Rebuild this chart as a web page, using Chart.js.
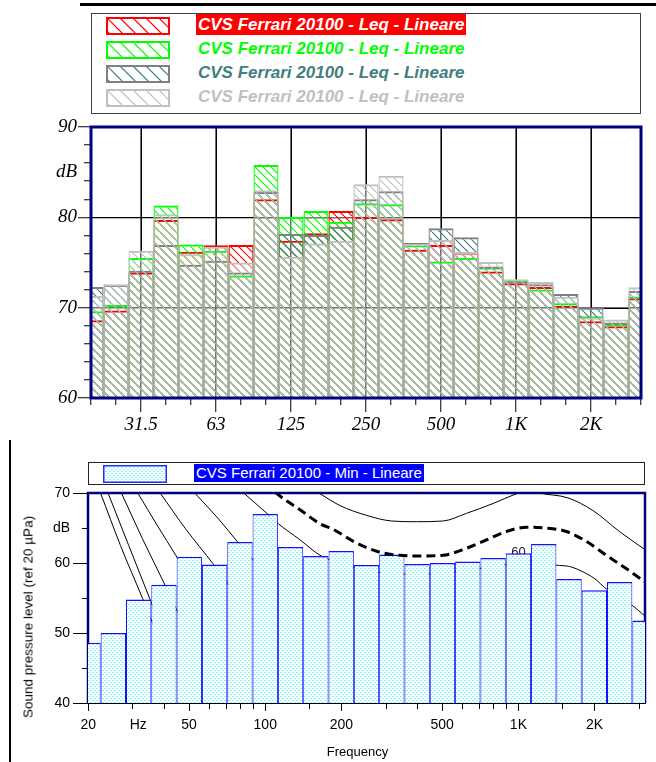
<!DOCTYPE html>
<html>
<head>
<meta charset="utf-8">
<script src="https://cdn.jsdelivr.net/npm/chart.js@4.4.1/dist/chart.umd.min.js"></script>
<style>
  html, body { margin: 0; padding: 0; background: #fff; }
  body { position: relative; width: 656px; height: 762px; overflow: hidden;
         font-family: "Liberation Sans", Arial, sans-serif; }
  .abs { position: absolute; }
  canvas { position: absolute; }
  .legTxt { position: absolute; font: italic bold 17px "Liberation Sans", Arial, sans-serif;
            line-height: 21px; padding: 0 2px; white-space: nowrap; }
</style>
</head>
<body>
<div class="abs" style="left:80px;top:3px;width:576px;height:3px;background:#000"></div>
<div class="abs" style="left:9px;top:440px;width:2px;height:322px;background:#000"></div>
<div class="abs" style="left:91px;top:13px;width:550px;height:101px;border:1px solid #404040;box-sizing:border-box"></div>
<div id="legendTop"></div>
<canvas id="topChart" width="656" height="440" style="left:0;top:0"></canvas>

<div class="abs" style="left:88px;top:462px;width:557px;height:23px;border:1px solid #222;box-sizing:border-box"></div>
<canvas id="minSwatch" width="64" height="18" style="left:103px;top:465px"></canvas>
<div class="abs" id="minLegend" style="left:194px;top:464px;height:18px;line-height:18px;padding:0 2px;background:#0000ff;color:#fff;font-size:15px;white-space:nowrap"></div>
<canvas id="bottomChart" width="656" height="322" style="left:0;top:440px"></canvas>
<div class="abs" style="left:27.5px;top:616.5px;transform:translate(-50%,-50%) rotate(-90deg);white-space:nowrap;font-size:13.5px;color:#000">Sound pressure level (ref 20 µPa)</div>
<div class="abs" style="left:357.5px;top:751px;transform:translate(-50%,-50%);white-space:nowrap;font-size:13px;color:#000">Frequency</div>

<script>
// 1/3-octave band centres
const bands = ['20','25','31.5','40','50','63','80','100','125','160','200','250','315','400','500','630','800','1K','1.25K','1.6K','2K','2.5K','3.15K'];
const octaveLabels = ['31.5','63','125','250','500','1K','2K'];

// Leq spectra (dB) for the four measurements
const leqRed   = [68.6, 69.7, 73.9, 79.7, 76.2, 76.9, 76.95, 82.0, 77.4, 78.25, 80.7, 80.05, 79.8, 76.4, 76.95, 76.1, 74.0, 72.7, 72.3, 70.2, 68.5, 67.95, 71.05];
const leqGreen = [69.6, 70.3, 75.5, 81.3, 77.0, 76.3, 73.55, 85.8, 80.05, 80.7, 79.5, 81.55, 81.45, 76.9, 75.1, 75.5, 74.45, 73.0, 72.0, 70.5, 69.05, 68.2, 71.25];
const leqTeal  = [72.3, 72.5, 74.1, 76.95, 74.75, 75.2, 73.9, 82.8, 78.15, 78.05, 78.97, 82.0, 82.9, 77.15, 78.8, 77.8, 74.55, 72.9, 72.6, 71.5, 70.0, 68.35, 71.85];
const leqGrey  = [71.3, 72.6, 76.3, 80.35, 75.9, 76.75, 75.0, 83.0, 75.65, 77.1, 77.4, 83.67, 84.6, 77.05, 77.5, 76.15, 75.05, 73.15, 72.85, 71.2, 68.9, 68.7, 72.25];
const seriesNames = ['CVS Ferrari 20100 - Leq - Lineare', 'CVS Ferrari 20100 - Leq - Lineare',
                     'CVS Ferrari 20100 - Leq - Lineare', 'CVS Ferrari 20100 - Leq - Lineare'];
const topLevelTicks = [60, 62, 64, 66, 68, 70, 72, 74, 76, 78, 80, 82, 84, 85, 86, 88, 90];
const topGridLevels = [70, 80];

// Minimum spectrum (dB)
const minName = 'CVS Ferrari 20100 - Min - Lineare';
const minLevels = [48.6, 50.0, 54.8, 56.9, 60.9, 59.8, 63.0, 67.0, 62.3, 61.0, 61.7, 59.7, 61.2, 59.85, 60.0, 60.2, 60.7, 61.4, 62.7, 57.7, 56.1, 57.3, 51.8];
const freqTicks = [20, 30, 31.5, 40, 50, 60, 70, 80, 90, 100, 150, 200, 300, 400, 500, 600, 700, 800, 900, 1000, 1500, 2000, 3000];
const freqLabelAt = [20, 31.5, 50, 100, 200, 500, 1000, 2000];
const freqLabelText = ['20', 'Hz', '50', '100', '200', '500', '1K', '2K'];
const levelTicks = [40, 45, 50, 55, 60, 65, 70];

// Equal-loudness contours [Hz, dB]
const contour1 = [[20, 74.3], [22.4, 69.9], [26.8, 62.5], [32.8, 54.9], [36, 51.3]];
const contour2 = [[20, 77.2], [24, 69.9], [28.9, 62.5], [34.9, 55.0], [40, 49.5]];
const contour3 = [[20, 79.9], [27.1, 69.9], [32.7, 63.5], [40, 57.0], [50, 49.5]];
const contour4 = [[20, 81.7], [31.5, 69.9], [37.4, 65.4], [44.5, 61.0], [63, 51.9]];
const contour5 = [[20, 83.7], [38.6, 69.9], [48.4, 64.9], [62.5, 59.8], [80, 54.6]];
const contour6 = [[31.5, 79.3], [53, 69.9], [65.4, 66.3], [77.8, 63.0], [100, 58.5]];
const contour60 = [[63, 73.8], [82.8, 69.9], [101.5, 67.1], [112.8, 65.6], [137.3, 63.3], [164.7, 61.1], [200, 59.9],
                   [250, 59.0], [315, 58.5], [400, 58.4], [500, 58.6], [630, 59.0], [800, 59.5], [1000, 60.0], [1250, 60.2],
                   [1411, 59.7], [1593, 59.5], [1853, 58.5], [2029, 57.6], [2188, 56.5], [2829, 53.9], [3162, 52.4]];
const contour70 = [[100, 76.0], [125, 72.8], [164.7, 69.9], [197.5, 68.2], [251.6, 66.8], [315.8, 66.0], [396, 65.9],
                   [504, 66.0], [624, 67.1], [794, 68.5], [982, 69.9], [1100, 70.5], [1213, 70.0], [1569, 69.3],
                   [1968, 67.5], [2507, 64.5], [3162, 61.9]];
const loudnessCurve = [[100, 71.5], [111.2, 69.9], [137.3, 67.6], [164.7, 65.6], [185.8, 64.8], [222.8, 63.1], [279.6, 61.6],
                       [340.4, 61.1], [420.6, 61.0], [504, 61.1], [623.6, 62.1], [747.6, 63.3], [896.6, 64.5], [1075, 65.1],
                       [1289, 65.0], [1546, 64.5], [1853, 63.1], [2222, 61.1], [2665, 59.2], [3162, 57.3]];
const contourLabel = { text: '60', hz: 1000, level: 60 };

Chart.defaults.font.family = '"Liberation Sans", Arial, sans-serif';
const serifItalic = { family: '"Liberation Serif", "Times New Roman", serif', size: 19, style: 'italic' };

// diagonal hatch tile
function hatchTile(color, step, width) {
  const c = document.createElement('canvas');
  c.width = step; c.height = step;
  const g = c.getContext('2d');
  g.strokeStyle = color; g.lineWidth = width;
  g.beginPath();
  for (const o of [-step, 0, step]) { g.moveTo(o, 0); g.lineTo(o + step, step); }
  g.stroke();
  return g.createPattern(c, 'repeat');
}
// dotted fill for the minimum spectrum
function dotTile() {
  const c = document.createElement('canvas');
  c.width = 4; c.height = 4;
  const g = c.getContext('2d');
  g.fillStyle = '#ffffff'; g.fillRect(0, 0, 4, 4);
  g.fillStyle = '#7ff4ff';
  g.fillRect(0, 0, 2, 1); g.fillRect(2, 2, 2, 1);
  return g.createPattern(c, 'repeat');
}

const topStyles = [
  { line: '#ff0000', hatch: '#ff0000', text: '#ffffff', back: '#ff0000' },
  { line: '#00ff00', hatch: '#00ff00', text: '#00ff00', back: 'transparent' },
  { line: '#808080', hatch: '#408080', text: '#408080', back: 'transparent' },
  { line: '#c0c0c0', hatch: '#c0c0c0', text: '#c0c0c0', back: 'transparent' }
];
const topData = [leqRed, leqGreen, leqTeal, leqGrey];

// legend of the upper chart
const legendTop = document.getElementById('legendTop');
topStyles.forEach((s, k) => {
  const sw = document.createElement('canvas');
  sw.width = 64; sw.height = 18;
  sw.style.left = '106px'; sw.style.top = (16.5 + k * 24.2) + 'px';
  const g = sw.getContext('2d');
  g.save();
  g.beginPath(); g.rect(0, 0, 64, 18); g.clip();
  g.strokeStyle = s.hatch; g.lineWidth = 1.2;
  g.beginPath();
  for (let o = -26; o < 70; o += 13) { g.moveTo(o, 0); g.lineTo(o + 18, 18); }
  g.stroke();
  g.restore();
  g.strokeStyle = s.line; g.lineWidth = 2;
  g.strokeRect(1, 1, 62, 16);
  legendTop.appendChild(sw);
  const t = document.createElement('div');
  t.className = 'legTxt';
  t.style.left = '196px'; t.style.top = (13.5 + k * 24.2) + 'px';
  t.style.color = s.text; t.style.background = s.back;
  t.textContent = seriesNames[k];
  legendTop.appendChild(t);
});

// legend of the lower chart
document.getElementById('minLegend').textContent = minName;
(function () {
  const g = document.getElementById('minSwatch').getContext('2d');
  g.fillStyle = dotTile(); g.fillRect(0, 0, 64, 18);
  g.strokeStyle = '#2a2aff'; g.lineWidth = 1.5;
  g.strokeRect(0.75, 0.75, 62.5, 16.5);
})();

const isOctave = i => octaveLabels.includes(bands[i]);
const bandMax = i => Math.max(leqRed[i], leqGreen[i], leqTeal[i], leqGrey[i]);

// black grid in the open area above the bars, navy frame on top
const topOverlay = {
  id: 'topOverlay',
  afterDatasetsDraw(chart) {
    const { ctx, chartArea: a, scales: { x, y } } = chart;
    const half = (x.getPixelForValue(1) - x.getPixelForValue(0)) / 2;
    ctx.save();
    ctx.beginPath(); ctx.rect(a.left, a.top, a.right - a.left, a.bottom - a.top); ctx.clip();
    ctx.strokeStyle = '#000'; ctx.lineWidth = 1;
    bands.forEach((b, i) => {
      if (!isOctave(i)) return;
      const px = Math.round(x.getPixelForValue(i)) + 0.5;
      ctx.beginPath(); ctx.moveTo(px, a.top); ctx.lineTo(px, y.getPixelForValue(bandMax(i))); ctx.stroke();
    });
    topGridLevels.forEach(v => {
      const py = Math.round(y.getPixelForValue(v)) + 0.5;
      bands.forEach((b, i) => {
        if (v <= bandMax(i)) return;
        const cx = x.getPixelForValue(i);
        ctx.beginPath(); ctx.moveTo(cx - half, py); ctx.lineTo(cx + half, py); ctx.stroke();
      });
    });
    ctx.restore();
    ctx.save();
    ctx.strokeStyle = '#000080'; ctx.lineWidth = 3;
    ctx.strokeRect(a.left, a.top, a.right - a.left, a.bottom - a.top);
    ctx.restore();
  }
};

new Chart(document.getElementById('topChart'), {
  type: 'bar',
  data: {
    labels: bands,
    datasets: topData.map((d, k) => ({
      label: seriesNames[k],
      data: d,
      backgroundColor: hatchTile(topStyles[k].hatch, 8, 1.2),
      borderColor: topStyles[k].line,
      borderWidth: { top: 2, left: 1.2, right: 1.2, bottom: 0 },
      borderSkipped: 'start',
      grouped: false,
      barPercentage: 1,
      categoryPercentage: 1,
      inflateAmount: 0,
      clip: 0,
      order: 4 - k
    }))
  },
  options: {
    responsive: false, animation: false, events: [], devicePixelRatio: 1,
    layout: { padding: { left: 0, top: 127, right: 15, bottom: 0 }, autoPadding: false },
    plugins: { legend: { display: false }, tooltip: { enabled: false } },
    scales: {
      x: {
        type: 'category', offset: false,
        grid: {
          offset: false, lineWidth: 1.5, tickWidth: 1, tickLength: 14, tickColor: '#000',
          color: c => isOctave(c.index) ? '#707070' : 'transparent',
          tickBorderDash: c => isOctave(c.index) ? [] : [7, 30]
        },
        border: { display: false },
        ticks: {
          autoSkip: false, maxRotation: 0, minRotation: 0, padding: 2, color: '#000', font: serifItalic,
          callback: (v, i) => isOctave(i) ? bands[i] : ''
        },
        afterFit: s => { s.height = 42; }
      },
      y: {
        min: 60, max: 90,
        grid: {
          lineWidth: 1.5, tickWidth: 1, tickLength: 13,
          color: c => (c.tick && topGridLevels.includes(c.tick.value)) ? '#707070' : 'transparent',
          tickColor: c => (c.tick && c.tick.value === 85) ? 'transparent' : '#000',
          tickBorderDash: c => (c.tick && c.tick.value % 10 === 0) ? [] : [0, 6, 30]
        },
        border: { display: false },
        afterBuildTicks: s => { s.ticks = topLevelTicks.map(v => ({ value: v })); },
        ticks: {
          autoSkip: false, padding: 1, color: '#000', font: serifItalic,
          callback: v => v % 10 === 0 ? String(v) : (v === 85 ? 'dB' : '')
        },
        afterFit: s => { s.width = 91; }
      }
    }
  },
  plugins: [topOverlay]
});

// lower chart: frame and contour label sit behind the bars
const bottomUnderlay = {
  id: 'bottomUnderlay',
  beforeDatasetsDraw(chart) {
    const { ctx, chartArea: a, scales: { x, y } } = chart;
    ctx.save();
    ctx.strokeStyle = '#000080'; ctx.lineWidth = 2.5;
    ctx.beginPath();
    ctx.moveTo(a.left, a.bottom); ctx.lineTo(a.left, a.top); ctx.lineTo(a.right, a.top); ctx.lineTo(a.right, a.bottom);
    ctx.stroke();
    ctx.font = '13px "Liberation Sans", Arial, sans-serif';
    ctx.fillStyle = '#222'; ctx.textAlign = 'center'; ctx.textBaseline = 'alphabetic';
    ctx.fillText(contourLabel.text, x.getPixelForValue(contourLabel.hz), y.getPixelForValue(contourLabel.level) - 7.5);
    ctx.restore();
  }
};

const bandCenterHz = bands.map((b, i) => Math.pow(10, (13 + i) / 10));
const toPts = arr => arr.map(([f, l]) => ({ x: f, y: l }));
const thinContours = [contour1, contour2, contour3, contour4, contour5, contour6, contour60, contour70];

new Chart(document.getElementById('bottomChart'), {
  type: 'bar',
  data: {
    datasets: [
      ...thinContours.map(c => ({
        type: 'line', data: toPts(c), borderColor: '#000', borderWidth: 1, pointRadius: 0,
        cubicInterpolationMode: 'monotone', fill: false, clip: 0, order: 3
      })),
      {
        type: 'bar', label: minName,
        data: minLevels.map((v, i) => ({ x: bandCenterHz[i], y: v })),
        backgroundColor: dotTile(), borderColor: '#1010ff',
        borderWidth: { top: 1.5, left: 1, right: 1, bottom: 0 },
        barThickness: 'flex', barPercentage: 1, categoryPercentage: 1, inflateAmount: 0,
        clip: 0, order: 2
      },
      {
        type: 'line', data: toPts(loudnessCurve), borderColor: '#000', borderWidth: 3, borderDash: [9, 5],
        pointRadius: 0, cubicInterpolationMode: 'monotone', fill: false, clip: 0, order: 1
      }
    ]
  },
  options: {
    responsive: false, animation: false, events: [], devicePixelRatio: 1,
    layout: { padding: { left: 0, top: 53, right: 11, bottom: 0 }, autoPadding: false },
    plugins: { legend: { display: false }, tooltip: { enabled: false } },
    scales: {
      x: {
        type: 'logarithmic', min: 19.95, max: 3162.3, offset: false, z: 1,
        grid: {
          drawOnChartArea: false, offset: false, tickLength: 8, tickWidth: 1,
          tickColor: c => (c.tick && c.tick.value === 31.5) ? 'transparent' : '#000',
          tickBorderDash: c => (c.tick && freqLabelAt.includes(c.tick.value)) ? [] : [5, 30]
        },
        border: { display: true, color: '#000', width: 1 },
        afterBuildTicks: s => { s.ticks = freqTicks.map(v => ({ value: v })); },
        ticks: {
          autoSkip: false, maxRotation: 0, minRotation: 0, padding: 6, color: '#000', font: { size: 14 },
          callback: v => { const k = freqLabelAt.indexOf(v); return k < 0 ? '' : freqLabelText[k]; }
        },
        afterFit: s => { s.height = 59; }
      },
      y: {
        min: 40, max: 70,
        grid: {
          drawOnChartArea: false, tickLength: 15, tickWidth: 1, tickColor: '#000',
          tickBorderDash: c => (c.tick && c.tick.value % 10 === 0) ? [] : [0, 9, 30]
        },
        border: { display: false },
        afterBuildTicks: s => { s.ticks = levelTicks.map(v => ({ value: v })); },
        ticks: {
          autoSkip: false, padding: 3, color: '#000', font: { size: 14 },
          callback: v => v % 10 === 0 ? String(v) : (v === 65 ? 'dB' : '')
        },
        afterFit: s => { s.width = 88; }
      }
    }
  },
  plugins: [bottomUnderlay]
});
</script>
</body>
</html>
